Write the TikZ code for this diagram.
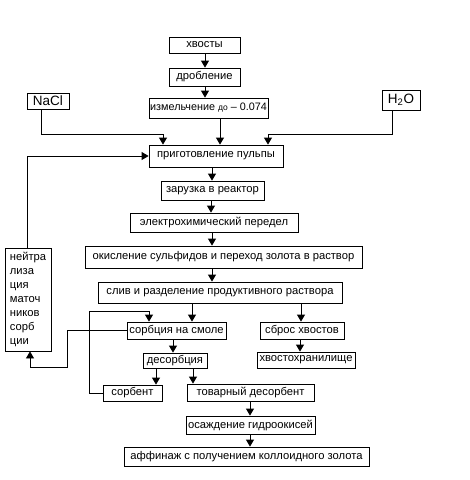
\documentclass[tikz,border=0pt]{standalone}
\usepackage{fontspec}
\setmainfont{Liberation Sans}
\usetikzlibrary{arrows.meta}
\begin{document}
\begin{tikzpicture}[x=1pt,y=-1pt,
  box/.style={draw,line width=0.8pt,inner sep=0pt,font=\fontsize{11.2}{13}\selectfont},
  arr/.style={draw,line width=0.8pt,-{Triangle[width=8pt,length=7pt]}}]
\useasboundingbox (0,0) rectangle (470,480);
\node[box,minimum width=71pt,minimum height=16pt] (tails) at (204.5,45) {хвосты};
\node[box,minimum width=71pt,minimum height=18pt] (drob) at (204.5,77) {дробление};
\node[box,minimum width=119pt,minimum height=20pt,font=\fontsize{10.8}{13}\selectfont] (izm) at (208.5,108) {измельчение {\fontsize{8.5}{9}\selectfont до} – 0.074};
\node[box,minimum width=42pt,minimum height=16pt,font=\fontsize{13.5}{14}\selectfont] (nacl) at (48,101) {NaCl};
\node[box,minimum width=38pt,minimum height=20pt,font=\fontsize{13.5}{14}\selectfont] (h2o) at (401,100) {H\textsubscript{2}O};
\node[box,minimum width=134pt,minimum height=22pt] (pulp) at (216,156) {приготовление пульпы};
\node[box,minimum width=103pt,minimum height=19pt] (reactor) at (212.5,190.5) {зарузка в реактор};
\node[box,minimum width=168pt,minimum height=19pt] (electro) at (214,222.5) {электрохимический передел};
\node[box,minimum width=277pt,minimum height=22pt] (oxid) at (223.5,257) {окисление сульфидов и переход золота в раствор};
\node[box,minimum width=244pt,minimum height=21pt] (sliv) at (220,292.5) {слив и разделение продуктивного раствора};
\node[box,minimum width=46pt,minimum height=103pt,align=left,inner sep=4pt,font=\fontsize{11.2}{14}\selectfont] (neut) at (28,299.5) {нейтра\\лиза\\ция\\маточ\\ников\\сорб\\ции};
\node[box,minimum width=99pt,minimum height=17pt] (sorb) at (176.5,330.5) {сорбция на смоле};
\node[box,minimum width=84pt,minimum height=17pt] (sbros) at (302,330.5) {сброс хвостов};
\node[box,minimum width=64pt,minimum height=15pt] (desorb) at (175,360.5) {десорбция};
\node[box,minimum width=98pt,minimum height=16pt] (hvost) at (306,360) {хвостохранилище};
\node[box,minimum width=59pt,minimum height=16pt] (sorbent) at (132.5,393) {сорбент};
\node[box,minimum width=127pt,minimum height=17pt] (tovar) at (250.5,392.5) {товарный десорбент};
\node[box,minimum width=129pt,minimum height=18pt] (osazh) at (250.5,425) {осаждение гидроокисей};
\node[box,minimum width=245pt,minimum height=19pt] (affin) at (246.5,456.5) {аффинаж с получением коллоидного золота};
% connectors
\draw[arr] (205,0 |- tails.south) -- (205,0 |- drob.north);
\draw[arr] (205,0 |- drob.south) -- (205,0 |- izm.north);
\draw[arr] (220,0 |- izm.south) -- (220,0 |- pulp.north);
\draw[arr] (41,0 |- nacl.south) -- (41,134) -- (163,134) -- (163,0 |- pulp.north);
\draw[arr] (392,0 |- h2o.south) -- (392,134) -- (268,134) -- (268,0 |- pulp.north);
\draw[arr] (27,0 |- neut.north) |- (pulp.west);
\draw[arr] (212,0 |- pulp.south) -- (212,0 |- reactor.north);
\draw[arr] (211,0 |- reactor.south) -- (211,0 |- electro.north);
\draw[arr] (212,0 |- electro.south) -- (212,0 |- oxid.north);
\draw[arr] (212,0 |- oxid.south) -- (212,0 |- sliv.north);
\draw[arr] (192,0 |- sliv.south) -- (192,0 |- sorb.north);
\draw[arr] (301,0 |- sliv.south) -- (301,0 |- sbros.north);
\draw[arr] (173,0 |- sorb.south) -- (173,0 |- desorb.north);
\draw[arr] (300,0 |- sbros.south) -- (300,0 |- hvost.north);
\draw[arr] (156,0 |- desorb.south) -- (156,0 |- sorbent.north);
\draw[arr] (193,0 |- desorb.south) -- (193,0 |- tovar.north);
\draw[arr] (250,0 |- tovar.south) -- (250,0 |- osazh.north);
\draw[arr] (250,0 |- osazh.south) -- (250,0 |- affin.north);
\draw[arr] (sorbent.west) -- (89,0 |- sorbent.west) -- (89,311) -- (149,311) -- (149,0 |- sorb.north);
\draw[arr] (sorb.west) -- (67,0 |- sorb.west) -- (67,367) -- (30,367) -- (30,0 |- neut.south);
\end{tikzpicture}
\end{document}
